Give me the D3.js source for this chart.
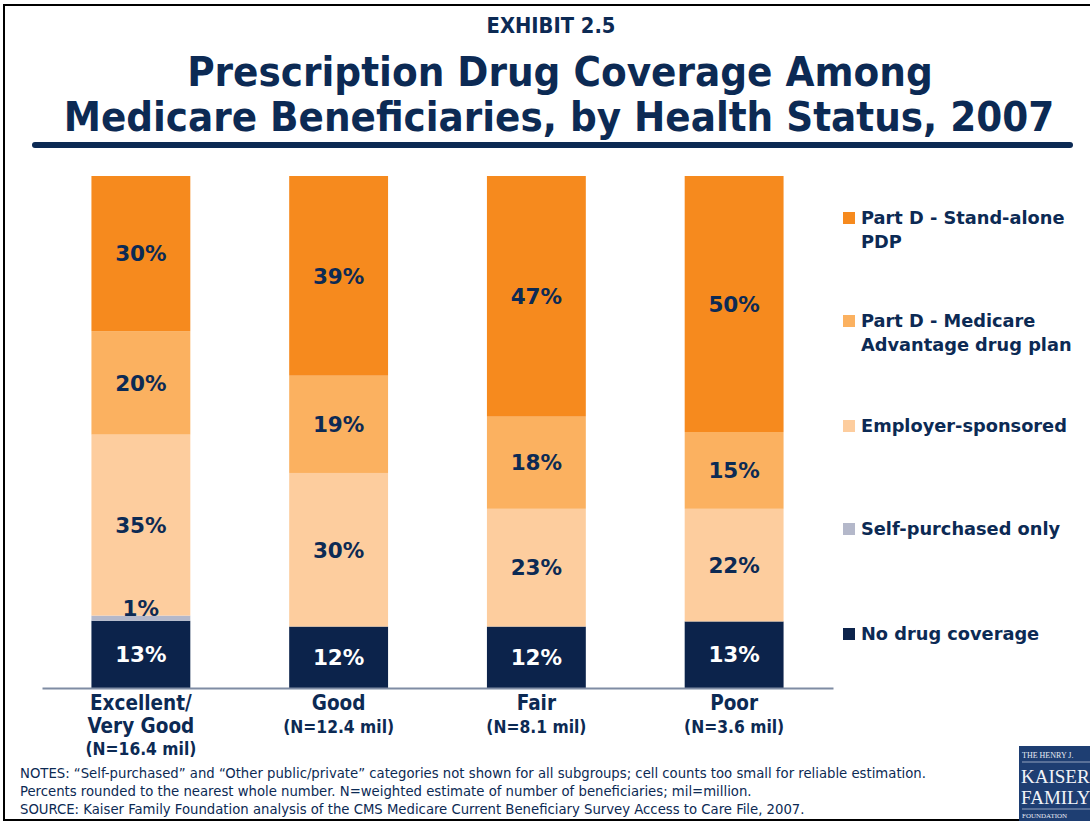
<!DOCTYPE html>
<html><head><meta charset="utf-8">
<script src="https://cdn.jsdelivr.net/npm/d3@7"></script>
<style>body{margin:0;background:#fff}svg{display:block}</style>
</head><body>
<svg id="c" width="1090" height="824"></svg>
<script>
const categories = ["Excellent/Very Good", "Good", "Fair", "Poor"];
const categoryLines = [["Excellent/", "Very Good", "(N=16.4 mil)"], ["Good", "(N=12.4 mil)"], ["Fair", "(N=8.1 mil)"], ["Poor", "(N=3.6 mil)"]];
const seriesNames = ["No drug coverage", "Self-purchased only", "Employer-sponsored", "Part D - Medicare Advantage drug plan", "Part D - Stand-alone PDP"];
const noCoverage = [13, 12, 12, 13];
const selfPurchased = [1, 0, 0, 0];
const employer = [35, 30, 23, 22];
const medicareAdvantage = [20, 19, 18, 15];
const standAlonePDP = [30, 39, 47, 50];
const legendLines = [["Part D - Stand-alone", "PDP"], ["Part D - Medicare", "Advantage drug plan"], ["Employer-sponsored"], ["Self-purchased only"], ["No drug coverage"]];
const notes = [
  "NOTES: \u201CSelf-purchased\u201D and \u201COther public/private\u201D categories not shown for all subgroups; cell counts too small for reliable estimation.",
  "Percents rounded to the nearest whole number. N=weighted estimate of number of beneficiaries; mil=million.",
  "SOURCE: Kaiser Family Foundation analysis of the CMS Medicare Current Beneficiary Survey Access to Care File, 2007."
];

const colors = ["#0c234b", "#b4b8ca", "#fdcd9e", "#fbb160", "#f68a1e"];
const navy = "#0c2a54";
const svg = d3.select("#c");

function fitWidth(sel, w) {
  const n = sel.node();
  const cur = n.getComputedTextLength();
  const fs = parseFloat(sel.attr("font-size"));
  const nf = fs * w / cur;
  sel.attr("font-size", nf);
  return nf;
}

// border
svg.append("rect").attr("x", 4).attr("y", 5).attr("width", 1100).attr("height", 815)
  .attr("fill", "none").attr("stroke", "#000").attr("stroke-width", 2);

// titles
const ex = svg.append("text").attr("x", 551).attr("y", 33).attr("text-anchor", "middle")
  .attr("font-family", "DejaVu Sans Condensed").attr("font-weight", "bold").attr("font-size", 17)
  .attr("fill", navy).text("EXHIBIT 2.5");
fitWidth(ex, 129);
const t1 = svg.append("text").attr("x", 560).attr("y", 86).attr("text-anchor", "middle")
  .attr("font-family", "DejaVu Sans Condensed").attr("font-weight", "bold").attr("font-size", 40)
  .attr("fill", navy).text("Prescription Drug Coverage Among");
fitWidth(t1, 746);
const t2 = svg.append("text").attr("x", 559).attr("y", 131).attr("text-anchor", "middle")
  .attr("font-family", "DejaVu Sans Condensed").attr("font-weight", "bold").attr("font-size", 40)
  .attr("fill", navy).text("Medicare Beneficiaries, by Health Status, 2007");
fitWidth(t2, 991);
svg.append("line").attr("x1", 35).attr("x2", 1070).attr("y1", 145).attr("y2", 145)
  .attr("stroke", navy).attr("stroke-width", 6).attr("stroke-linecap", "round");

// scales
const x = d3.scaleBand().domain(categories).range([42, 833]).paddingInner(0.5).paddingOuter(0.25);
const y = d3.scaleLinear().domain([0, 1]).range([688, 176]);

const rows = categories.map((c, i) => ({
  cat: c, s0: noCoverage[i], s1: selfPurchased[i], s2: employer[i], s3: medicareAdvantage[i], s4: standAlonePDP[i]
}));
const keys = ["s0", "s1", "s2", "s3", "s4"];
const stack = d3.stack().keys(keys).offset(d3.stackOffsetExpand);
const series = stack(rows);

const g = svg.append("g");
series.forEach((s, si) => {
  g.selectAll(null).data(s).join("rect")
    .attr("x", d => x(d.data.cat)).attr("width", x.bandwidth())
    .attr("y", d => y(d[1])).attr("height", d => y(d[0]) - y(d[1]))
    .attr("fill", colors[si]);
});
series.forEach((s, si) => {
  g.selectAll(null).data(s.filter(d => d.data[keys[si]] > 0)).join("text")
    .attr("x", d => x(d.data.cat) + x.bandwidth() / 2)
    .attr("y", d => {
      const v = d.data[keys[si]];
      if (v < 3) return y(d[1]) - 7;
      return (y(d[0]) + y(d[1])) / 2;
    })
    .attr("dy", "0.36em")
    .attr("text-anchor", "middle")
    .attr("font-family", "DejaVu Sans").attr("font-weight", "bold").attr("font-size", 21.5)
    .attr("fill", si === 0 ? "#fff" : navy)
    .text(d => d.data[keys[si]] + "%");
});

// axis
const ax = svg.append("g").attr("transform", "translate(0,688)")
  .call(d3.axisBottom(x).tickSize(0).tickFormat(""));
ax.select(".domain").attr("stroke", "#7f8ca3").attr("stroke-width", 2);
ax.selectAll(".tick").remove();

categories.forEach((c, i) => {
  const lines = categoryLines[i];
  const cx = x(c) + x.bandwidth() / 2;
  lines.forEach((ln, j) => {
    const isN = ln.startsWith("(");
    svg.append("text").attr("x", cx).attr("y", 710 + j * 23 - (isN && j === 2 ? 1 : 0))
      .attr("text-anchor", "middle")
      .attr("font-family", "DejaVu Sans Condensed").attr("font-weight", "bold")
      .attr("font-size", isN ? 17.3 : 20.5)
      .attr("fill", navy).text(ln);
  });
});

// legend
const legendY = [218, 321, 426, 529, 634];
const probe = svg.append("text").attr("font-family", "DejaVu Sans").attr("font-weight", "bold")
  .attr("font-size", 16).text("Employer-sponsored");
const legendFs = fitWidth(probe, 206);
probe.remove();
legendLines.forEach((lines, i) => {
  const si = 4 - i;
  svg.append("rect").attr("x", 843).attr("y", legendY[i] - 6).attr("width", 12).attr("height", 12).attr("fill", colors[si]);
  lines.forEach((ln, j) => {
    svg.append("text").attr("x", 861).attr("y", legendY[i] + j * 24).attr("dy", "0.36em")
      .attr("font-family", "DejaVu Sans").attr("font-weight", "bold").attr("font-size", legendFs)
      .attr("fill", navy).text(ln);
  });
});

// notes
let noteFs = 12.5;
notes.forEach((n, i) => {
  const tx = svg.append("text").attr("x", 20).attr("y", 778 + i * 18)
    .attr("font-family", "DejaVu Sans Condensed").attr("font-size", noteFs)
    .attr("fill", navy).text(n);
  if (i === 0) noteFs = fitWidth(tx, 907);
});

// logo
const lg = svg.append("g");
lg.append("rect").attr("x", 1019).attr("y", 746).attr("width", 80).attr("height", 75).attr("fill", "#1e3e72");
lg.append("text").attr("x", 1022).attr("y", 758).attr("font-family", "Liberation Serif").attr("font-size", 8).attr("fill", "#e8ecf4").text("THE HENRY J.");
lg.append("line").attr("x1", 1022).attr("x2", 1090).attr("y1", 762).attr("y2", 762).attr("stroke", "#c8d0e0").attr("stroke-width", 0.7);
lg.append("text").attr("x", 1021).attr("y", 783).attr("font-family", "Liberation Serif").attr("font-size", 19).attr("fill", "#f2f4f8").text("KAISER");
lg.append("text").attr("x", 1021).attr("y", 804).attr("font-family", "Liberation Serif").attr("font-size", 19).attr("fill", "#f2f4f8").text("FAMILY");
lg.append("line").attr("x1", 1022).attr("x2", 1090).attr("y1", 809).attr("y2", 809).attr("stroke", "#c8d0e0").attr("stroke-width", 0.7);
lg.append("text").attr("x", 1022).attr("y", 818).attr("font-family", "Liberation Serif").attr("font-size", 7).attr("fill", "#e8ecf4").text("FOUNDATION");
</script>
</body></html>
